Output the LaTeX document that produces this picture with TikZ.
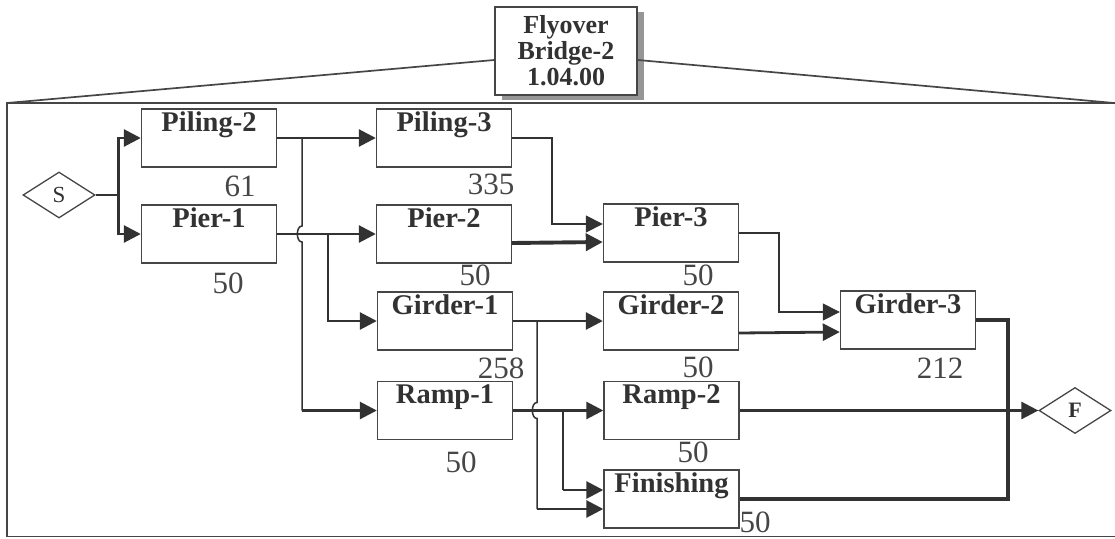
\documentclass[tikz,border=0pt]{standalone}
\usepackage{fontspec}
\setmainfont{Liberation Serif}
\usetikzlibrary{calc,arrows.meta,shapes.geometric,shadows}
\definecolor{inkc}{RGB}{50,50,50}
\definecolor{boxc}{RGB}{70,70,70}
\definecolor{shadc}{RGB}{150,150,150}
\tikzset{
  act/.style={rectangle,draw=boxc,line width=1.4pt,minimum width=135pt,minimum height=58pt,inner xsep=0pt,inner ysep=3pt,text height=19pt,text depth=33pt,font=\fontsize{28.5}{28.5}\selectfont\bfseries,text=inkc},
  ev/.style={diamond,draw=boxc,line width=1.3pt,minimum width=72pt,minimum height=46pt,inner sep=0pt,font=\fontsize{23}{23}\selectfont,text=inkc},
  dur/.style={inner sep=0pt,font=\fontsize{31}{31}\selectfont,text=inkc!90},
  topbox/.style={rectangle,draw=boxc,line width=1.6pt,fill=white,minimum width=142pt,minimum height=88pt,inner sep=0pt,align=center,font=\fontsize{26}{26}\selectfont\bfseries,text=inkc,drop shadow={shadow xshift=7pt,shadow yshift=-5pt,fill=shadc,opacity=1}},
  frame/.style={line width=1.7pt,boxc},
  lnk/.style={line width=1.5pt,inkc},
  crit/.style={line width=2.8pt,inkc},
  heavy/.style={line width=3.9pt,inkc},
  flow/.style={-{Triangle[length=17pt,width=17pt]}},
}
\begin{document}
\begin{tikzpicture}[x=1pt,y=-1pt]
  \useasboundingbox (0,0) rectangle (1115,538);
  % summary box and frame
  \coordinate (fnw) at (7,103); \coordinate (fne) at (1114,103);
  \draw[frame] (fnw) rectangle (1124,536.5);
  \node[topbox](top) at (566,51){Flyover\\Bridge-2\\1.04.00};
  \draw[frame] ([yshift=-9pt]top.west) -- (fnw); \draw[frame] ([yshift=-9pt]top.east) -- (fne);
  % events
  \node[ev](S) at (59,195){S}; \node[ev,font=\fontsize{22}{22}\selectfont\bfseries](F) at (1075,410.5){F};
  % activities
  \foreach \nm/\txt/\x/\y in {Pil2/Piling-2/209/138, Pier1/Pier-1/209/234, Pil3/Piling-3/444/138, Pier2/Pier-2/444/234,
      Gird1/Girder-1/445/321, Ramp1/Ramp-1/445/410.5, Pier3/Pier-3/671/233, Gird2/Girder-2/671/321,
      Ramp2/Ramp-2/671.5/410.5, Fin/Finishing/671.5/499, Gird3/Girder-3/908/320}{
    \node[act] (\nm) at (\x,\y){\txt};}
  % durations
  \foreach \nm/\v/\x/\y in {d1/61/240/186, d2/50/228/283, d3/335/491/184, d4/50/475/275, d5/50/698/275,
      d6/258/501/368, d7/50/698/367, d8/212/940/368, d9/50/461/462, d10/50/693/452, d11/50/755/522}{
    \node[dur] (\nm) at (\x,\y){\v};}
  % links
  \draw[crit,flow] (S.east) -- ++(23,0) |- (Pil2.west);
  \draw[crit,flow] (S.east) -- ++(23,0) |- (Pier1.west);
  \draw[crit,flow] (Pil2.east) -- (Pil3.west);
  \coordinate (hopA) at (302,234); \coordinate (brA) at (328,234);
  \draw[lnk] (Pil2.east -| hopA) -- ($(hopA)+(0,-8)$) to[out=180,in=180] ($(hopA)+(0,8)$) -- (hopA |- Ramp1.west);
  \draw[crit,flow] (hopA |- Ramp1.west) -- (Ramp1.west);
  \draw[crit,flow] (Pier1.east) -- (Pier2.west);
  \draw[crit,flow] (brA) |- (Gird1.west);
  \draw[lnk,flow] (Pil3.east) -- ++(40,0) |- ($(Pier3.west)+(0,-9)$);
  \draw[heavy,flow] ($(Pier2.east)+(0,9)$) -- ($(Pier3.west)+(0,9)$);
  \draw[lnk,flow] (Pier3.east) -- ++(40,0) |- ($(Gird3.west)+(0,-8)$);
  \draw[crit,flow] (Gird1.east) -- (Gird2.west);
  \coordinate (hopB) at (537,410.5); \coordinate (brB) at (563,410.5);
  \draw[lnk] (Gird1.east -| hopB) -- ($(hopB)+(0,-8)$) to[out=180,in=180] ($(hopB)+(0,8)$) -- ($(hopB |- Fin.west)+(0,10)$);
  \draw[crit,flow] ($(hopB |- Fin.west)+(0,10)$) -- ($(Fin.west)+(0,10)$);
  \draw[crit,flow] (Ramp1.east) -- (Ramp2.west);
  \draw[lnk] (brB) -- ($(brB |- Fin.west)+(0,-9)$);
  \draw[crit,flow] ($(brB |- Fin.west)+(0,-9)$) -- ($(Fin.west)+(0,-9)$);
  \draw[crit,flow] ($(Gird2.east)+(0,12)$) -- ($(Gird3.west)+(0,12)$);
  \coordinate (jn) at (1008,499);
  \draw[heavy] (Gird3.east) -| (jn) -- (Fin.east);
  \draw[crit,flow] (Ramp2.east) -- (F.west);
\end{tikzpicture}
\end{document}
